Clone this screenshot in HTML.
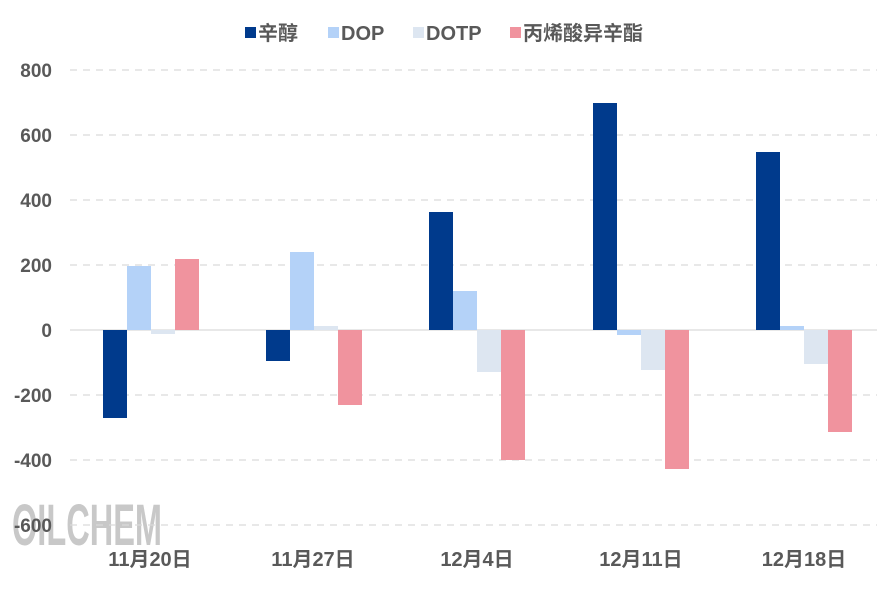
<!DOCTYPE html>
<html><head><meta charset="utf-8"><style>
body{margin:0;background:#fff}
text{font-family:"Liberation Sans","Noto Sans CJK SC",sans-serif;font-weight:bold;fill:#595959}
</style></head><body>
<svg width="877" height="590" xmlns="http://www.w3.org/2000/svg">
<text x="12" y="545" font-size="58" style="fill:#c8c8c8;font-weight:bold" textLength="150" lengthAdjust="spacingAndGlyphs">OILCHEM</text>
<g stroke="#d9d9d9" stroke-width="1.3" stroke-dasharray="7,6">
<line x1="70" y1="70" x2="877" y2="70"/><line x1="70" y1="135" x2="877" y2="135"/>
<line x1="70" y1="200" x2="877" y2="200"/><line x1="70" y1="265" x2="877" y2="265"/>
<line x1="70" y1="395" x2="877" y2="395"/><line x1="70" y1="460" x2="877" y2="460"/>
<line x1="70" y1="525" x2="877" y2="525"/>
</g>
<line x1="70" y1="330" x2="877" y2="330" stroke="#d9d9d9" stroke-width="1.3"/>
<g font-size="19" text-anchor="end">
<text x="52" y="77">800</text><text x="52" y="142">600</text><text x="52" y="207">400</text>
<text x="52" y="272">200</text><text x="52" y="337">0</text><text x="52" y="402">-200</text>
<text x="52" y="467">-400</text><text x="52" y="532">-600</text>
</g>
<rect x="103" y="330" width="24" height="88" fill="#003A8C"/>
<rect x="127" y="266" width="24" height="64" fill="#B4D2F8"/>
<rect x="151" y="330" width="24" height="4" fill="#DDE6F1"/>
<rect x="175" y="259" width="24" height="71" fill="#F0939E"/>
<rect x="266" y="330" width="24" height="31" fill="#003A8C"/>
<rect x="290" y="252" width="24" height="78" fill="#B4D2F8"/>
<rect x="314" y="326" width="24" height="4" fill="#DDE6F1"/>
<rect x="338" y="330" width="24" height="75" fill="#F0939E"/>
<rect x="429" y="212" width="24" height="118" fill="#003A8C"/>
<rect x="453" y="291" width="24" height="39" fill="#B4D2F8"/>
<rect x="477" y="330" width="24" height="42" fill="#DDE6F1"/>
<rect x="501" y="330" width="24" height="130" fill="#F0939E"/>
<rect x="593" y="103" width="24" height="227" fill="#003A8C"/>
<rect x="617" y="330" width="24" height="5" fill="#B4D2F8"/>
<rect x="641" y="330" width="24" height="40" fill="#DDE6F1"/>
<rect x="665" y="330" width="24" height="139" fill="#F0939E"/>
<rect x="756" y="152" width="24" height="178" fill="#003A8C"/>
<rect x="780" y="326" width="24" height="4" fill="#B4D2F8"/>
<rect x="804" y="330" width="24" height="34" fill="#DDE6F1"/>
<rect x="828" y="330" width="24" height="102" fill="#F0939E"/>
<g font-size="20" text-anchor="middle">
<text x="150" y="566">11月20日</text><text x="313" y="566">11月27日</text>
<text x="477" y="566">12月4日</text><text x="641" y="566">12月11日</text>
<text x="804" y="566">12月18日</text>
</g>
<g font-size="20">
<rect x="245" y="27" width="11" height="11" fill="#003A8C"/><text x="258" y="40">辛醇</text>
<rect x="328" y="27" width="11" height="11" fill="#B4D2F8"/><text x="341" y="40">DOP</text>
<rect x="413" y="27" width="11" height="11" fill="#DDE6F1"/><text x="426" y="40">DOTP</text>
<rect x="510" y="27" width="11" height="11" fill="#F0939E"/><text x="523" y="40">丙烯酸异辛酯</text>
</g>
</svg>
</body></html>
